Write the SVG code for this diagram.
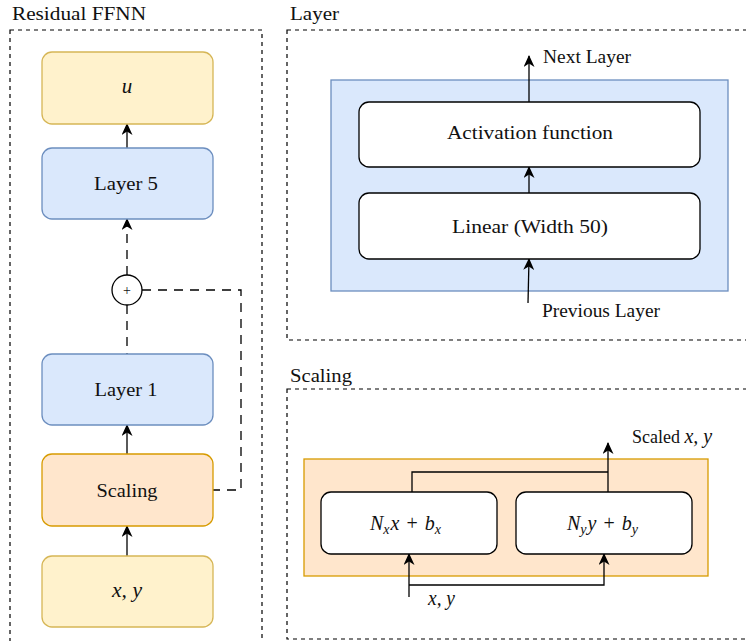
<svg xmlns="http://www.w3.org/2000/svg" width="746" height="641" viewBox="0 0 746 641">
<style>
text{font-family:"Liberation Serif","Times New Roman",serif;fill:#111;}
.t{font-size:18px;}
.lbl{font-size:18px;text-anchor:middle;}
.m{font-style:italic;}
.mm{font-size:20px;font-style:italic;}
.frame{fill:none;stroke:#000;stroke-width:1.2;stroke-dasharray:4 4;}
.yel{fill:#fff2cc;stroke:#d6b656;stroke-width:1.3;}
.blu{fill:#dae8fc;stroke:#6c8ebf;stroke-width:1.3;}
.org{fill:#ffe6cc;stroke:#d79b00;stroke-width:1.3;}
.wht{fill:#fff;stroke:#000;stroke-width:1.3;}
.c{fill:none;stroke:#000;stroke-width:1.3;}
.d{fill:none;stroke:#000;stroke-width:1.3;stroke-dasharray:9 7;}
</style>
<defs>
<marker id="arr" viewBox="0 0 12 11" refX="11" refY="5.5" markerWidth="12" markerHeight="11" markerUnits="userSpaceOnUse" orient="auto">
<path d="M0,0 L12,5.5 L0,11 L3.5,5.5 z" fill="#000"/>
</marker>
</defs>

<g id="frames">
<rect class="frame" x="10" y="30" width="252" height="650"/>
<text class="t" x="12" y="20" textLength="134" lengthAdjust="spacingAndGlyphs">Residual FFNN</text>
<rect class="frame" x="287" y="30" width="500" height="310"/>
<text class="t" x="290" y="20" textLength="49" lengthAdjust="spacingAndGlyphs">Layer</text>
<rect class="frame" x="287" y="389" width="500" height="250"/>
<text class="t" x="290" y="382" textLength="62" lengthAdjust="spacingAndGlyphs">Scaling</text>
</g>

<g id="layer-container"><rect class="blu" x="331" y="80" width="397" height="211"/></g>
<g id="scaling-container"><rect class="org" x="304" y="459" width="404" height="117"/></g>

<g id="connectors">
<line class="c" x1="127" y1="149" x2="127" y2="124" marker-end="url(#arr)"/>
<line class="d" x1="127" y1="275" x2="127" y2="219" marker-end="url(#arr)"/>
<line class="d" x1="127" y1="305" x2="127" y2="354"/>
<polyline class="d" points="142,290 241,290 241,490 213,490"/>
<line class="c" x1="127" y1="454" x2="127" y2="425" marker-end="url(#arr)"/>
<line class="c" x1="127" y1="556" x2="127" y2="526" marker-end="url(#arr)"/>
<line class="c" x1="529" y1="102" x2="529" y2="56" marker-end="url(#arr)"/>
<line class="c" x1="529" y1="193" x2="529" y2="167" marker-end="url(#arr)"/>
<line class="c" x1="528" y1="303" x2="529" y2="259" marker-end="url(#arr)"/>
<polyline class="c" points="412,492 412,472 608,472"/>
<line class="c" x1="608" y1="492" x2="608" y2="443" marker-end="url(#arr)"/>
<line class="c" x1="409" y1="597" x2="409" y2="554" marker-end="url(#arr)"/>
<polyline class="c" points="409,585 604,585 604,554" marker-end="url(#arr)"/>
</g>

<g id="node-u"><rect class="yel" x="42" y="52" width="171" height="72" rx="10"/><text class="mm" x="127" y="93" text-anchor="middle" style="font-size:21px">u</text></g>
<g id="node-layer5"><rect class="blu" x="42" y="148" width="171" height="71" rx="10"/><text class="lbl" x="126" y="190" textLength="64" lengthAdjust="spacingAndGlyphs">Layer 5</text></g>
<g id="node-plus"><circle cx="127" cy="290" r="15" fill="#fff" stroke="#000" stroke-width="1.3"/><text x="127" y="295" style="font-size:14px;text-anchor:middle;">+</text></g>
<g id="node-layer1"><rect class="blu" x="42" y="354" width="171" height="71" rx="10"/><text class="lbl" x="126" y="396" textLength="63" lengthAdjust="spacingAndGlyphs">Layer 1</text></g>
<g id="node-scaling"><rect class="org" x="42" y="454" width="171" height="72" rx="10"/><text class="lbl" x="127" y="497" textLength="61" lengthAdjust="spacingAndGlyphs">Scaling</text></g>
<g id="node-xy"><rect class="yel" x="42" y="556" width="171" height="71" rx="10"/><text class="mm" x="112" y="597" textLength="30" lengthAdjust="spacingAndGlyphs">x, y</text></g>

<g id="node-activation"><rect class="wht" x="359" y="102" width="341" height="65" rx="10"/><text class="lbl" x="530" y="139" textLength="166" lengthAdjust="spacingAndGlyphs">Activation function</text></g>
<g id="node-linear"><rect class="wht" x="359" y="193" width="341" height="66" rx="10"/><text class="lbl" x="530" y="233" textLength="156" lengthAdjust="spacingAndGlyphs">Linear (Width 50)</text></g>
<g id="label-next"><text class="t" x="543" y="63" textLength="88" lengthAdjust="spacingAndGlyphs">Next Layer</text></g>
<g id="label-prev"><text class="t" x="542" y="317" textLength="118" lengthAdjust="spacingAndGlyphs">Previous Layer</text></g>

<g id="node-nx"><rect class="wht" x="321" y="492" width="176" height="62" rx="10"/>
<text class="mm" x="370" y="530">N<tspan style="font-size:14px" dy="4">x</tspan><tspan dy="-4" dx="1">x</tspan><tspan style="font-style:normal" dx="7">+</tspan><tspan dx="7">b</tspan><tspan style="font-size:14px" dy="4">x</tspan></text></g>
<g id="node-ny"><rect class="wht" x="516" y="492" width="176" height="62" rx="10"/>
<text class="mm" x="567" y="530">N<tspan style="font-size:14px" dy="4">y</tspan><tspan dy="-4" dx="1">y</tspan><tspan style="font-style:normal" dx="7">+</tspan><tspan dx="7">b</tspan><tspan style="font-size:14px" dy="4">y</tspan></text></g>
<g id="label-scaled"><text class="t" x="632" y="443">Scaled <tspan class="m" style="font-size:20px">x, y</tspan></text></g>
<g id="label-xy"><text class="mm" x="428" y="605" textLength="27" lengthAdjust="spacingAndGlyphs">x, y</text></g>
</svg>
